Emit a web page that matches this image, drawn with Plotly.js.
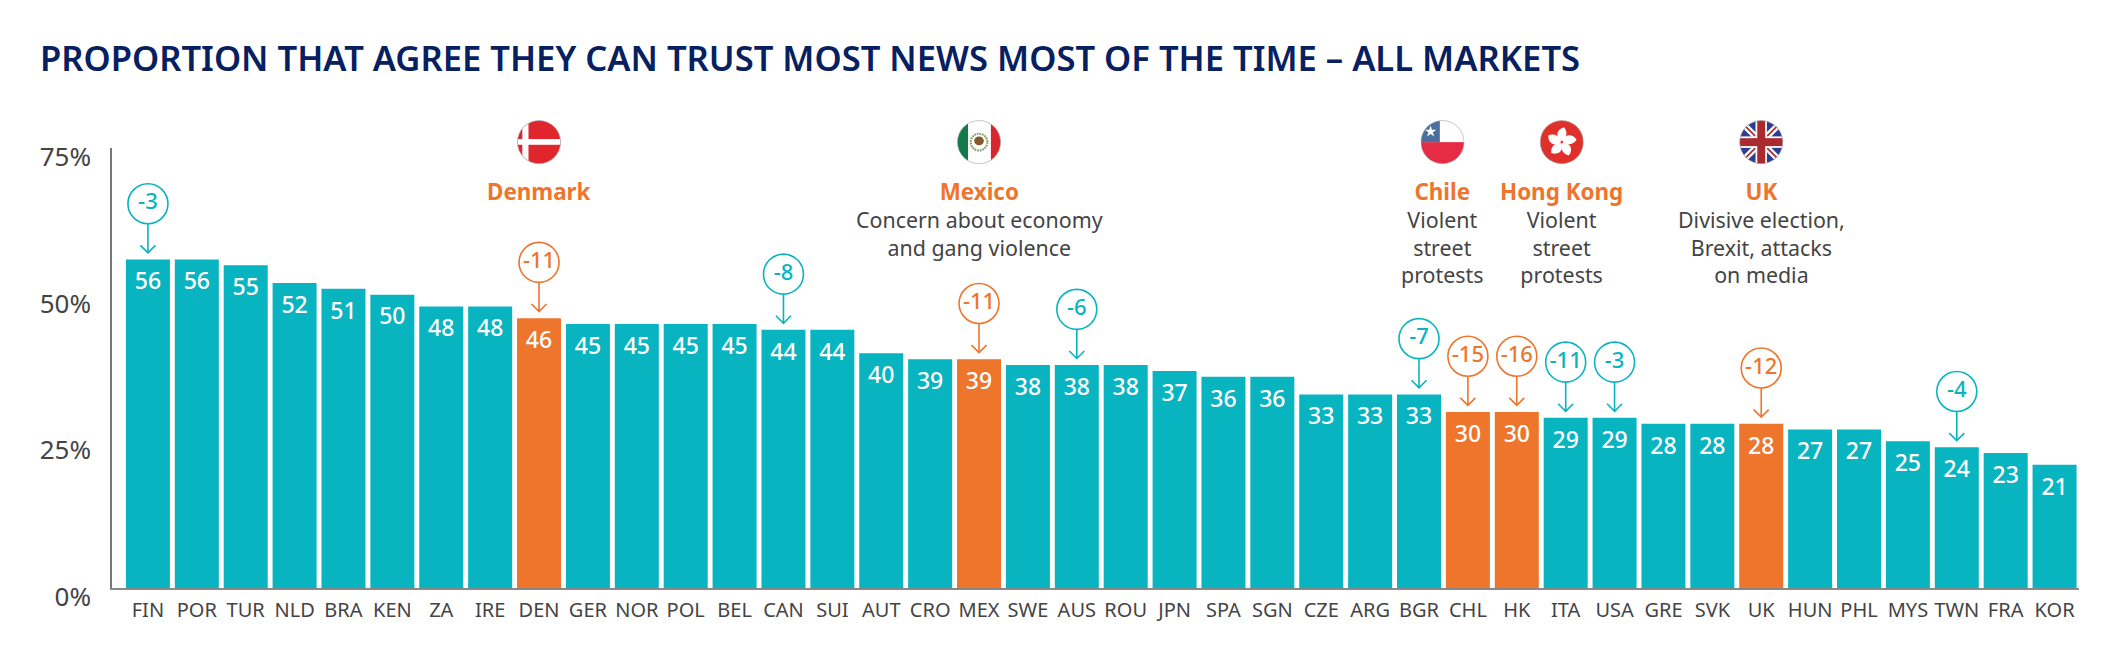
<!DOCTYPE html>
<html>
<head>
<meta charset="utf-8">
<script src="https://cdn.plot.ly/plotly-3.0.1.min.js"></script>
<style>
  body { margin: 0; background: #fff; }
  #chart { width: 2124px; height: 648px; }
</style>
</head>
<body>
<div id="chart"></div>
<script>
const markets = ["FIN", "POR", "TUR", "NLD", "BRA", "KEN", "ZA", "IRE", "DEN", "GER", "NOR", "POL", "BEL", "CAN", "SUI", "AUT", "CRO", "MEX", "SWE", "AUS", "ROU", "JPN", "SPA", "SGN", "CZE", "ARG", "BGR", "CHL", "HK", "ITA", "USA", "GRE", "SVK", "UK", "HUN", "PHL", "MYS", "TWN", "FRA", "KOR"];
const trust = [56, 56, 55, 52, 51, 50, 48, 48, 46, 45, 45, 45, 45, 44, 44, 40, 39, 39, 38, 38, 38, 37, 36, 36, 33, 33, 33, 30, 30, 29, 29, 28, 28, 28, 27, 27, 25, 24, 23, 21];

const highlighted = ["DEN", "MEX", "CHL", "HK", "UK"];

const changeMarkets = ["FIN", "DEN", "CAN", "MEX", "AUS", "BGR", "CHL", "HK", "ITA", "USA", "UK", "TWN"];
const changeValues = [-3, -11, -8, -11, -6, -7, -15, -16, -11, -3, -12, -4];

const yTicks = [0, 25, 50, 75];
const yTickText = ["0%", "25%", "50%", "75%"];

const noteNames = ["Denmark", "Mexico", "Chile", "Hong Kong", "UK"];
const noteLines = [
  [],
  ["Concern about economy", "and gang violence"],
  ["Violent", "street", "protests"],
  ["Violent", "street", "protests"],
  ["Divisive election,", "Brexit, attacks", "on media"],
];
// chile and hong kong notes do not sit over their own bars, so these are axis positions
const noteSlots = [8, 17, 26.48, 28.92, 33];

const TEAL = "#09b4c1";
const ORANGE = "#ee752c";
const NAVY = "#07205f";
const INK = "#444444";
const FONT = "'Noto Sans', sans-serif";

const xRange = [-0.735, 39.5];
const yRange = [0, 75];
const bubbleLift = 9.5;
const labelDrop = 4.1;

const colorOf = (m) => (highlighted.includes(m) ? ORANGE : TEAL);

function flagSvg(inner) {
  const svg =
    '<svg xmlns="http://www.w3.org/2000/svg" width="176" height="176" viewBox="-50 -50 100 100">' +
    '<defs><clipPath id="c"><circle r="49"/></clipPath></defs>' +
    '<g clip-path="url(#c)">' + inner + "</g>" +
    '<circle r="49" fill="none" stroke="#aaaaaa" stroke-width="1.5"/></svg>';
  return "data:image/svg+xml;charset=utf-8," + encodeURIComponent(svg);
}

function rect(x, y, w, h, fill) {
  return `<rect x="${x}" y="${y}" width="${w}" height="${h}" fill="${fill}"/>`;
}

const petals = [0, 72, 144, 216, 288]
  .map((a) => `<path transform="rotate(${a})" d="M1,-2 C-15,-10 -14,-28 5,-34 C14,-24 12,-10 1,-2Z" fill="#fff"/>`)
  .join("");

const flags = [
  rect(-50, -50, 100, 100, "#e1252c") + rect(-38, -50, 14, 100, "#fff") + rect(-50, -7, 100, 13, "#fff"),
  rect(-50, -50, 100, 100, "#fff") + rect(-50, -50, 25, 100, "#12794a") + rect(27, -50, 23, 100, "#d8262f") +
    '<circle r="19" fill="none" stroke="#8aa06a" stroke-width="5" stroke-dasharray="4 2"/>' +
    '<ellipse cy="-3" rx="11" ry="10" fill="#85592c"/>',
  rect(-50, -50, 100, 100, "#fff") + rect(-50, 0, 100, 50, "#e52c44") + rect(-50, -50, 44, 50, "#4a6f9e") +
    '<polygon points="-27,-38 -23.9,-28.3 -13.7,-28.3 -22,-22.3 -18.8,-12.6 -27,-18.6 -35.2,-12.6 -32,-22.3 -40.3,-28.3 -30.1,-28.3" fill="#fff"/>',
  rect(-50, -50, 100, 100, "#e0302c") + petals,
  rect(-50, -50, 100, 100, "#2b3f92") +
    '<path d="M-50,-50L50,50M50,-50L-50,50" stroke="#fff" stroke-width="14"/>' +
    '<path d="M-50,-50L50,50M50,-50L-50,50" stroke="#b02a30" stroke-width="4"/>' +
    rect(-13, -50, 26, 100, "#fff") + rect(-50, -13, 100, 26, "#fff") +
    rect(-9, -50, 18, 100, "#a92a2f") + rect(-50, -9, 100, 18, "#a92a2f"),
];

const barTrace = {
  type: "bar",
  x: markets,
  y: trust,
  marker: { color: markets.map(colorOf) },
  hoverinfo: "x+y",
};

const labelTrace = {
  type: "scatter",
  mode: "text",
  x: markets,
  y: trust.map((v) => v - labelDrop),
  text: trust.map(String),
  textposition: "middle center",
  textfont: { family: FONT, size: 23, color: "#fff", weight: 500 },
  hoverinfo: "skip",
};

const bubbleTrace = {
  type: "scatter",
  mode: "markers+text",
  x: changeMarkets,
  y: changeMarkets.map((m) => trust[markets.indexOf(m)] + bubbleLift),
  text: changeValues.map(String),
  textposition: "middle center",
  textfont: { family: FONT, size: 22, color: changeMarkets.map(colorOf), weight: 500 },
  marker: {
    size: 40,
    color: "#fff",
    line: { width: 1.6, color: changeMarkets.map(colorOf) },
  },
  cliponaxis: false,
  hoverinfo: "skip",
};

// stem and open head, in pixels up from the bar top
const arrows = changeMarkets.map((m) => ({
  type: "path",
  xref: "x",
  yref: "y",
  xsizemode: "pixel",
  ysizemode: "pixel",
  xanchor: m,
  yanchor: trust[markets.indexOf(m)],
  path: "M0,35.6 L0,6.6 M-7.5,14.1 L0,6.6 L7.5,14.1",
  line: { color: colorOf(m), width: 1.6 },
  layer: "above",
}));

const notes = noteNames.map((name, i) => ({
  x: noteSlots[i],
  xref: "x",
  y: 1 + (148.3 - 174) / 439.4,
  yref: "paper",
  yanchor: "top",
  xanchor: "center",
  showarrow: false,
  align: "center",
  text: [`<b><span style="color:${ORANGE};font-size:22.4px">${name}</span></b>`].concat(noteLines[i]).join("<br>"),
  font: { family: FONT, size: 21.4, color: INK },
}));

const flagImages = flags.map((source, i) => ({
  source: flagSvg(source),
  xref: "paper",
  yref: "paper",
  x: (noteSlots[i] - xRange[0]) / (xRange[1] - xRange[0]),
  y: 76 / 75,
  sizex: 44 / 1967.5,
  sizey: 44 / 439.4,
  sizing: "stretch",
  xanchor: "center",
  yanchor: "middle",
  layer: "above",
}));

const layout = {
  width: 2124,
  height: 648,
  margin: { l: 112, r: 44.5, t: 148.3, b: 60.3 },
  paper_bgcolor: "#fff",
  plot_bgcolor: "#fff",
  showlegend: false,
  bargap: 0.1,
  font: { family: FONT, color: INK },
  title: {
    text: "PROPORTION THAT AGREE THEY CAN TRUST MOST NEWS MOST OF THE TIME – ALL MARKETS",
    font: { family: FONT, size: 34.6, color: NAVY, weight: 600 },
    xref: "container",
    x: 40 / 2124,
    xanchor: "left",
    yref: "container",
    y: 1 - 59 / 648,
    yanchor: "middle",
  },
  xaxis: {
    type: "category",
    categoryorder: "array",
    categoryarray: markets,
    range: xRange,
    showgrid: false,
    zeroline: false,
    showline: true,
    linecolor: "#888888",
    linewidth: 1.5,
    ticks: "",
    tickangle: 0,
    tickmode: "array",
    tickvals: markets,
    ticktext: markets,
    ticklabelstandoff: 3,
    tickfont: { family: FONT, size: 20, color: INK },
  },
  yaxis: {
    range: yRange,
    tickmode: "array",
    tickvals: yTicks,
    ticktext: yTickText,
    showgrid: false,
    zeroline: false,
    showline: true,
    linecolor: "#777777",
    linewidth: 1.5,
    ticks: "",
    ticklabelstandoff: 14,
    ticklabelshift: 9,
    tickfont: { family: FONT, size: 26, color: INK },
  },
  annotations: notes,
  shapes: arrows,
  images: flagImages,
};

Plotly.newPlot("chart", [barTrace, labelTrace, bubbleTrace], layout, { displayModeBar: false });
</script>
</body>
</html>
